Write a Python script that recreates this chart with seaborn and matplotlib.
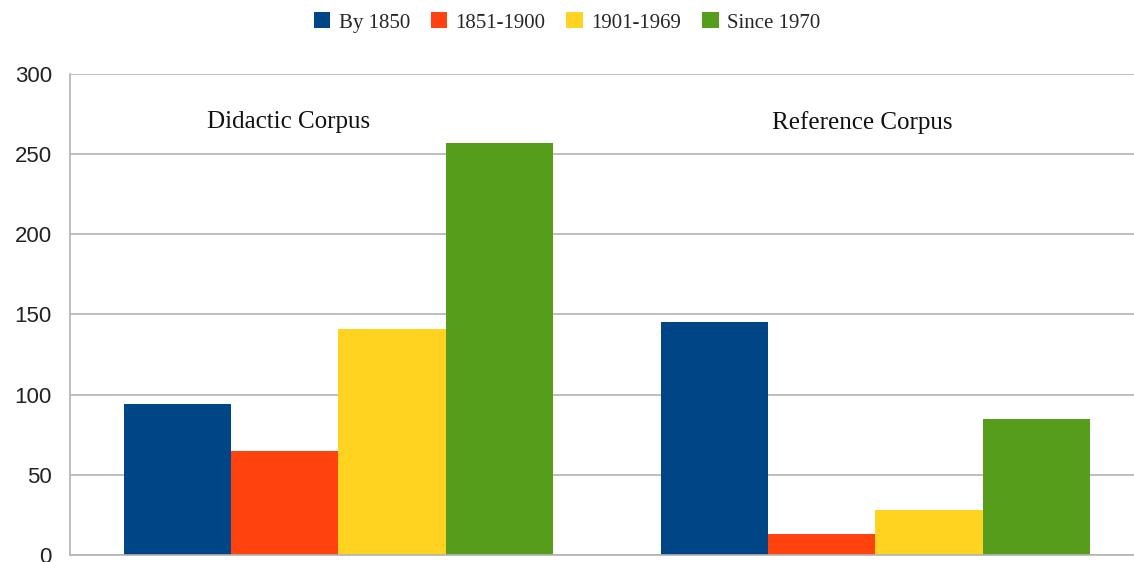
import pandas as pd
import seaborn as sns
import matplotlib.pyplot as plt
from matplotlib.patches import Patch

corpora = ['Didactic Corpus', 'Reference Corpus']
periods = ['By 1850', '1851-1900', '1901-1969', 'Since 1970']
didactic = [94, 65, 141, 257]
reference = [145, 13, 28, 85]
colors = ['#004586', '#ff420e', '#ffd320', '#579d1c']

# long table for seaborn
df = pd.DataFrame({
    'corpus': [corpora[0]] * 4 + [corpora[1]] * 4,
    'period': periods * 2,
    'count': didactic + reference,
})

sns.set_style('white')
plt.rcParams['font.family'] = ['Liberation Sans', 'DejaVu Sans']
serif = ['Liberation Serif', 'DejaVu Serif']

fig = plt.figure(figsize=(11.34, 5.62), dpi=100)
ax = fig.add_axes([0.0617, 0.0125, 0.947, 0.856])

sns.barplot(data=df, x='corpus', y='count', hue='period', hue_order=periods,
            palette=colors, width=0.8, gap=0, saturation=1, linewidth=0,
            ax=ax, legend=False)

ax.set_xlim(-0.5, 1.5)
ax.set_ylim(0, 300)
ax.set_yticks(range(0, 301, 50))
ax.yaxis.grid(True, color='#b3b3b3', linewidth=1.2)
ax.set_axisbelow(True)
ax.set_xlabel('')
ax.set_ylabel('')
ax.set_xticks([0.5])
ax.set_xticklabels([])
ax.tick_params(axis='x', length=5, color='#b3b3b3', direction='out')
ax.tick_params(axis='y', length=8.5, color='#b3b3b3', width=1.2, labelsize=16,
               labelcolor='#222222', pad=4.5)

for side in ['top', 'right']:
    ax.spines[side].set_visible(False)
for side in ['left', 'bottom']:
    ax.spines[side].set_color('#b3b3b3')
    ax.spines[side].set_linewidth(1.2)

# group labels inside the plot (placed as in the original, not exactly centred)
label_x = [-0.093, 0.976]
for x, name in zip(label_x, corpora):
    ax.text(x, 270, name, ha='center', va='center', fontsize=18,
            family=serif, color='#111111')

handles = [Patch(facecolor=c, edgecolor='none', label=p) for c, p in zip(colors, periods)]
fig.legend(handles=handles, loc='center', bbox_to_anchor=(0.5, 0.96), ncol=4,
           frameon=False, handlelength=0.8, handleheight=0.8, handletextpad=0.4,
           columnspacing=1.0, prop={'family': serif, 'size': 15})

fig.savefig('out.png', dpi=100)
